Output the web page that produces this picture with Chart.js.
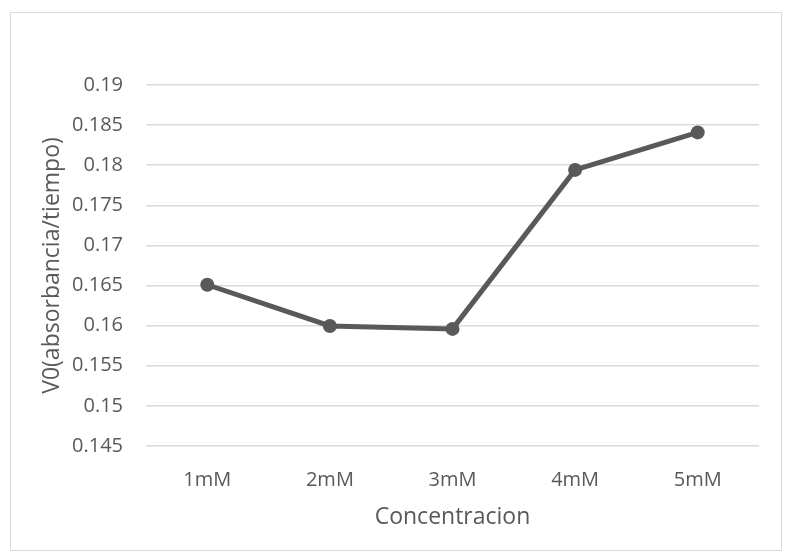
<!DOCTYPE html>
<html>
<head>
<meta charset="utf-8">
<script src="https://cdn.jsdelivr.net/npm/chart.js@4/dist/chart.umd.min.js"></script>
<style>
  body { margin: 0; background: #fff; }
  #frame { position: absolute; left: 10px; top: 12px; width: 770px; height: 537px; border: 1px solid #d9d9d9; }
  canvas { position: absolute; left: 0; top: 0; }
</style>
</head>
<body>
<div id="frame"></div>
<canvas id="chart" width="791" height="560"></canvas>
<script>
var categories = ['1mM', '2mM', '3mM', '4mM', '5mM'];
var v0Values = [0.1651, 0.15996, 0.1596, 0.17942, 0.18409];
var yMin = 0.145, yMax = 0.19, yStep = 0.005;

var grey = '#595959';
var font = 'Open Sans';

var ctx = document.getElementById('chart').getContext('2d');
var myChart = new Chart(ctx, {
    type: 'line',
    data: {
        labels: categories,
        datasets: [{
            data: v0Values,
            borderColor: grey,
            backgroundColor: grey,
            borderWidth: 5,
            pointRadius: 7,
            pointBorderWidth: 0,
            pointBackgroundColor: grey,
            tension: 0
        }]
    },
    options: {
        responsive: false,
        animation: false,
        events: [], /* no hover */
        layout: { padding: { top: 85, right: 32, bottom: 29, left: 10 } },
        plugins: { legend: { display: false }, tooltip: { enabled: false } },
        scales: {
            x: {
                offset: true,
                grid: { display: false, drawTicks: false },
                border: { display: false },
                ticks: { color: grey, font: { family: font, size: 20 }, padding: 22, maxRotation: 0 },
                title: { display: true, text: 'Concentracion', color: grey,
                         font: { family: font, size: 23 }, padding: 0 },
                afterFit: function (s) { s.height = 85; }
            },
            y: {
                min: yMin,
                max: yMax,
                grid: { color: '#d9d9d9', lineWidth: 1.5, drawTicks: false },
                border: { display: false },
                ticks: { stepSize: yStep, color: grey, font: { family: font, size: 20 }, padding: 23,
                         callback: function (v) { return +v.toFixed(3); } },
                title: { display: true, text: 'V0(absorbancia/tiempo)', color: grey,
                         font: { family: font, size: 23 }, padding: { top: 29, bottom: 0 } },
                afterFit: function (s) { s.width = 136; }
            }
        }
    }
});
</script>
</body>
</html>
